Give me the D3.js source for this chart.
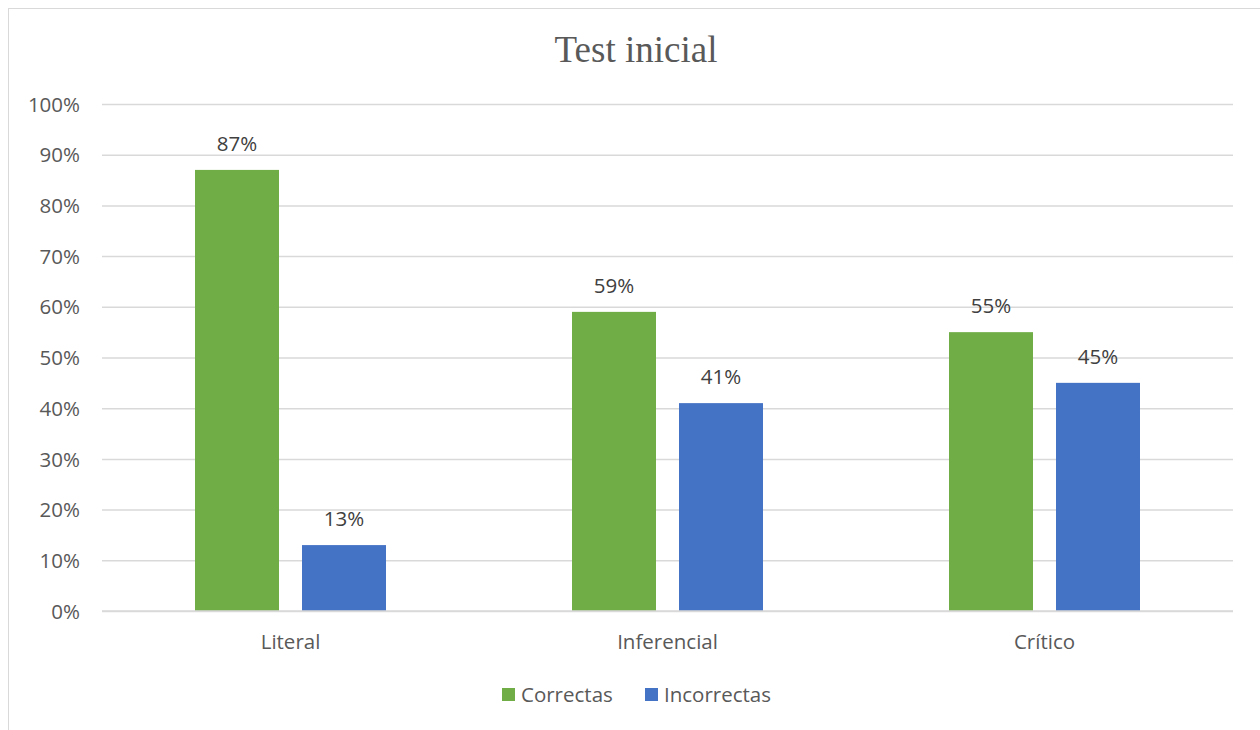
<!DOCTYPE html>
<html><head><meta charset="utf-8">
<script src="https://cdn.jsdelivr.net/npm/d3@7"></script>
<style>body{margin:0;background:#fff;}svg{display:block;}</style>
</head><body>
<script>
const categories = ["Literal", "Inferencial", "Crítico"];
const seriesNames = ["Correctas", "Incorrectas"];
const correctas = [87, 59, 55];
const incorrectas = [13, 41, 45];
const yTicks = [0,10,20,30,40,50,60,70,80,90,100];
const colors = ["#70AD47", "#4472C4"];

const W = 1260, H = 730;
const svg = d3.select("body").append("svg").attr("width", W).attr("height", H);
const font = "'Open Sans', 'Liberation Sans', sans-serif";
const fs = 20.5;

// outer border
svg.append("rect").attr("x", 8.5).attr("y", 8.5).attr("width", 1300).attr("height", 800)
  .attr("fill", "none").attr("stroke", "#d9d9d9").attr("stroke-width", 1);

const pL = 102, pR = 1233, pT = 104, pB = 611;
const x = d3.scaleBand().domain(categories).range([pL, pR]);
const x1 = d3.scaleBand().domain(seriesNames).range([93, 377 - 93]).paddingInner(23 / 107);
const y = d3.scaleLinear().domain([0, 100]).range([pB, pT]);

svg.append("text").attr("x", 636).attr("y", 62).attr("text-anchor", "middle")
  .attr("font-family", "'Liberation Serif', 'Times New Roman', serif").attr("font-size", 37)
  .attr("fill", "#595959").text("Test inicial");

// grid
const yAxis = d3.axisLeft(y).tickValues(yTicks).tickSize(-(pR - pL)).tickFormat(d => d + "%");
const gy = svg.append("g").attr("transform", `translate(${pL},0)`).call(yAxis);
gy.select(".domain").remove();
gy.selectAll(".tick line").attr("stroke", "#d9d9d9").attr("stroke-width", 1.5);
gy.selectAll(".tick text").attr("x", -22).attr("dy", "0.35em").attr("font-family", font)
  .attr("font-size", fs).attr("fill", "#595959");

const data = categories.map((c, i) => ({cat: c, vals: [correctas[i], incorrectas[i]]}));
const groups = svg.selectAll(".grp").data(data).join("g")
  .attr("transform", d => `translate(${x(d.cat)},0)`);
groups.selectAll("rect").data(d => d.vals.map((v, j) => ({s: seriesNames[j], v, j}))).join("rect")
  .attr("x", d => x1(d.s)).attr("width", x1.bandwidth())
  .attr("y", d => y(d.v)).attr("height", d => y(0) - y(d.v))
  .attr("fill", d => colors[d.j]);
groups.selectAll("text.lbl").data(d => d.vals.map((v, j) => ({s: seriesNames[j], v, j}))).join("text")
  .attr("class", "lbl")
  .attr("x", d => x1(d.s) + x1.bandwidth() / 2).attr("y", d => y(d.v) - 19)
  .attr("text-anchor", "middle").attr("font-family", font).attr("font-size", fs)
  .attr("fill", "#404040").text(d => d.v + "%");

// baseline
svg.append("line").attr("x1", pL).attr("x2", pR).attr("y1", y(0)).attr("y2", y(0))
  .attr("stroke", "#d9d9d9").attr("stroke-width", 1.5);

// category labels
const xAxis = d3.axisBottom(x).tickSize(0);
const gx = svg.append("g").attr("transform", `translate(0,${pB})`).call(xAxis);
gx.select(".domain").remove();
gx.selectAll(".tick text").attr("y", 31).attr("dy", "0.35em").attr("font-family", font)
  .attr("font-size", fs).attr("fill", "#595959");

// legend
const legX = [502, 645];
const lg = svg.selectAll(".leg").data(seriesNames).join("g")
  .attr("transform", (d, i) => `translate(${legX[i]},688)`);
lg.append("rect").attr("width", 13).attr("height", 13).attr("fill", (d, i) => colors[i]);
lg.append("text").attr("x", 19).attr("y", 7).attr("dy", "0.35em").attr("font-family", font)
  .attr("font-size", fs).attr("fill", "#595959").text(d => d);
</script>
</body></html>
